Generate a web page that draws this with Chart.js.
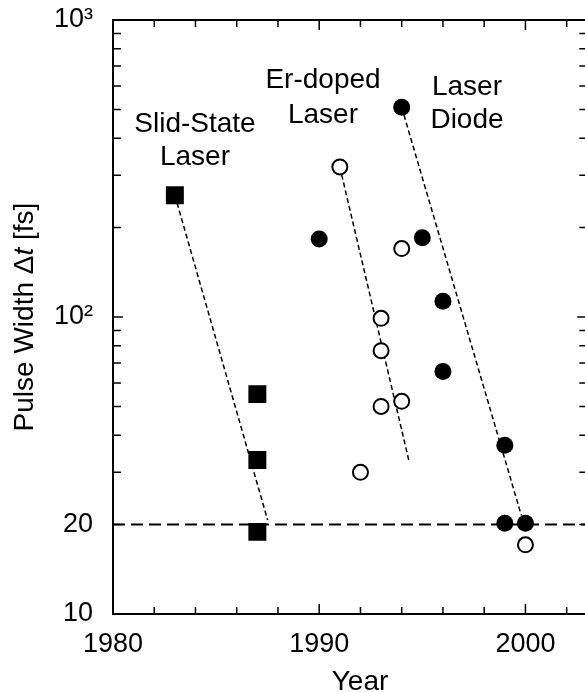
<!DOCTYPE html>
<html>
<head>
<meta charset="utf-8">
<script src="https://cdn.jsdelivr.net/npm/chart.js@4.4.1/dist/chart.umd.min.js"></script>
<style>
html, body { margin: 0; padding: 0; background: #fff; overflow: hidden; }
canvas { display: block; }
</style>
</head>
<body>
<canvas id="chart" width="600" height="692"></canvas>
<script>
// Values: year vs. pulse width (fs)
const solidYears = [1983, 1987, 1987, 1987];
const solidWidths = [257, 55, 33, 18.9];

const erYears = [1991, 1992, 1993, 1993, 1993, 1994, 1994, 2000];
const erWidths = [320, 30, 99, 77, 50, 52, 170, 17.1];

const diodeYears = [1990, 1994, 1995, 1996, 1996, 1999, 1999, 2000];
const diodeWidths = [183, 508, 185, 113, 65.5, 37, 20.2, 20.2];

// dashed trend lines (end points)
const solidTrendYears = [1983, 1987.5];
const solidTrendWidths = [257, 20.7];
const erTrendYears = [1991, 1994.35];
const erTrendWidths = [320, 32.8];
const diodeTrendYears = [1994, 1999.8];
const diodeTrendWidths = [508, 21.5];

// 20 fs line
const limitYears = [1980, 2003];
const limitWidths = [20, 20];

// axis ticks
const yearTicks = [1980, 1982, 1984, 1986, 1988, 1990, 1992, 1994, 1996, 1998, 2000, 2002];
const yearLabels = [1980, 1990, 2000];
const widthTicks = [10, 20, 30, 40, 50, 60, 70, 80, 90, 100, 200, 300, 400, 500, 600, 700, 800, 900, 1000];
const widthMajor = [10, 100, 1000];
const widthLabels = { 10: '10', 20: '20', 100: '10²', 1000: '10³' };

const groupLabels = [['Slid-State', 'Laser'], ['Er-doped', 'Laser'], ['Laser', 'Diode']];

const FONT = '"Liberation Sans", Arial, sans-serif';

function pts(xs, ys) {
    return xs.map((x, i) => ({ x: x, y: ys[i] }));
}

function dashed(xs, ys, dash, width) {
    return {
        data: pts(xs, ys),
        showLine: true,
        pointRadius: 0,
        borderColor: '#000',
        borderWidth: width,
        borderDash: dash
    };
}

// frame with inward ticks, group labels and axis titles
const frame = {
    id: 'frame',
    afterDraw(chart) {
        const { ctx, chartArea: a, scales: { x, y } } = chart;
        ctx.save();
        ctx.strokeStyle = '#000';
        ctx.lineWidth = 2;
        ctx.strokeRect(a.left, a.top, a.right - a.left, a.bottom - a.top);

        ctx.lineWidth = 1.5;
        ctx.beginPath();
        yearTicks.forEach(v => {
            const px = x.getPixelForValue(v);
            const len = yearLabels.includes(v) ? 10 : 7;
            ctx.moveTo(px, a.bottom);
            ctx.lineTo(px, a.bottom - len);
            ctx.moveTo(px, a.top);
            ctx.lineTo(px, a.top + len);
        });
        widthTicks.forEach(v => {
            const py = y.getPixelForValue(v);
            const len = widthMajor.includes(v) ? 10 : 8;
            ctx.moveTo(a.left, py);
            ctx.lineTo(a.left + len, py);
            ctx.moveTo(a.right, py);
            ctx.lineTo(a.right - len, py);
        });
        ctx.stroke();

        // group labels
        ctx.fillStyle = '#000';
        ctx.font = '28px ' + FONT;
        ctx.textAlign = 'center';
        ctx.textBaseline = 'alphabetic';
        const cx = [195, 323, 467];
        const base = [[132, 165], [88, 123], [95, 128]];
        groupLabels.forEach((lines, i) => {
            lines.forEach((t, j) => ctx.fillText(t, cx[i], base[i][j]));
        });

        // x title
        ctx.fillText('Year', 360, 690);

        // y title with italic t
        const parts = [['Pulse Width Δ', ''], ['t', 'italic '], [' [fs]', '']];
        ctx.translate(25, (a.top + a.bottom) / 2);
        ctx.rotate(-Math.PI / 2);
        let total = 0;
        parts.forEach(p => {
            ctx.font = p[1] + '28px ' + FONT;
            total += ctx.measureText(p[0]).width;
        });
        let pos = -total / 2;
        ctx.textAlign = 'left';
        ctx.textBaseline = 'middle';
        parts.forEach(p => {
            ctx.font = p[1] + '28px ' + FONT;
            ctx.fillText(p[0], pos, 0);
            pos += ctx.measureText(p[0]).width;
        });
        ctx.restore();
    }
};

const ctx = document.getElementById('chart').getContext('2d');
const chart = new Chart(ctx, {
    type: 'scatter',
    data: {
        datasets: [
            {
                data: pts(diodeYears, diodeWidths),
                pointStyle: 'circle',
                pointRadius: 8.5,
                backgroundColor: '#000',
                borderColor: '#000',
                borderWidth: 0
            },
            {
                data: pts(erYears, erWidths),
                pointStyle: 'circle',
                pointRadius: 7.5,
                backgroundColor: '#fff',
                borderColor: '#000',
                borderWidth: 2
            },
            {
                data: pts(solidYears, solidWidths),
                pointStyle: 'rect',
                pointRadius: 12.7,
                backgroundColor: '#000',
                borderColor: '#000',
                borderWidth: 0
            },
            dashed(solidTrendYears, solidTrendWidths, [5, 3], 1.5),
            dashed(erTrendYears, erTrendWidths, [5, 3], 1.5),
            dashed(diodeTrendYears, diodeTrendWidths, [5, 3], 1.5),
            dashed(limitYears, limitWidths, [12, 6], 2)
        ]
    },
    options: {
        responsive: false,
        animation: false,
        events: [],
        layout: { padding: { top: 20, right: 7, left: 0, bottom: 0 } },
        plugins: {
            legend: { display: false },
            tooltip: { enabled: false }
        },
        scales: {
            x: {
                type: 'linear',
                min: 1980,
                max: 2003,
                grid: { display: false, drawTicks: false },
                border: { display: false },
                afterBuildTicks: s => { s.ticks = yearTicks.map(v => ({ value: v })); },
                afterFit: s => {
                    s.height = 78;
                    s.paddingLeft = 0;
                    s.paddingRight = 0;
                },
                ticks: {
                    autoSkip: false,
                    maxRotation: 0,
                    padding: 14,
                    color: '#000',
                    font: { family: FONT, size: 27 },
                    callback: v => yearLabels.includes(v) ? String(v) : ''
                }
            },
            y: {
                type: 'logarithmic',
                min: 10,
                max: 1000,
                grid: { display: false, drawTicks: false },
                border: { display: false },
                afterBuildTicks: s => { s.ticks = widthTicks.map(v => ({ value: v })); },
                afterFit: s => {
                    s.width = 113;
                    s.paddingTop = 0;
                    s.paddingBottom = 0;
                },
                ticks: {
                    autoSkip: false,
                    padding: 20,
                    color: '#000',
                    font: { family: FONT, size: 27 },
                    callback: v => widthLabels[v] || ''
                }
            }
        }
    },
    plugins: [frame]
});
</script>
</body>
</html>
